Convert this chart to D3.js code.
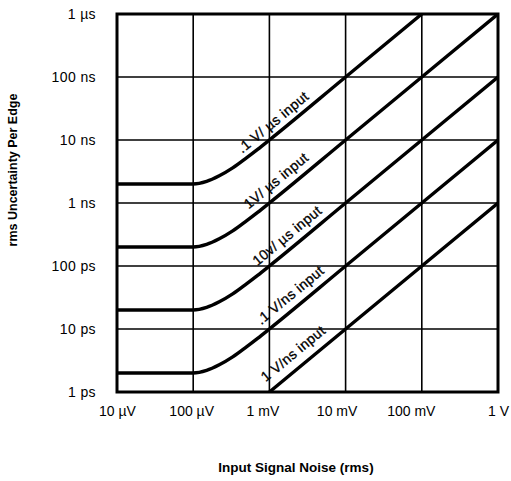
<!DOCTYPE html>
<html>
<head>
<meta charset="utf-8">
<script src="https://cdn.jsdelivr.net/npm/d3@7"></script>
<style>
  body { margin: 0; background: #fff; }
  svg { display: block; }
  text { fill: #000; }
</style>
</head>
<body>
<svg id="chart" width="511" height="481"></svg>
<script>
// ---- data (noise in volts, uncertainty in seconds) ----
const xTickValues = [1e-5, 1e-4, 1e-3, 1e-2, 1e-1, 1];
const xTickLabels = ["10 \u00b5V", "100 \u00b5V", "1 mV", "10 mV", "100 mV", "1 V"];
const yTickValues = [1e-12, 1e-11, 1e-10, 1e-9, 1e-8, 1e-7, 1e-6];
const yTickLabels = ["1 ps", "10 ps", "100 ps", "1 ns", "10 ns", "100 ns", "1 \u00b5s"];

const seriesNames = [".1 V/ \u00b5s input", "1V/ \u00b5s input", "10v/ \u00b5s input", ".1 V/ns input", "1 V/ns input"];

const series1 = [[1e-5, 2e-9], [1e-4, 2e-9], [1.5e-4, 2.2e-9], [2.2e-4, 2.7e-9], [3.3e-4, 3.6e-9], [5e-4, 5.2e-9], [7e-4, 7.1e-9], [1e-3, 1e-8], [1e-2, 1e-7], [1e-1, 1e-6]];
const series2 = [[1e-5, 2e-10], [1e-4, 2e-10], [1.5e-4, 2.2e-10], [2.2e-4, 2.7e-10], [3.3e-4, 3.6e-10], [5e-4, 5.2e-10], [7e-4, 7.1e-10], [1e-3, 1e-9], [1e-2, 1e-8], [1, 1e-6]];
const series3 = [[1e-5, 2e-11], [1e-4, 2e-11], [1.5e-4, 2.2e-11], [2.2e-4, 2.7e-11], [3.3e-4, 3.6e-11], [5e-4, 5.2e-11], [7e-4, 7.1e-11], [1e-3, 1e-10], [1e-2, 1e-9], [1, 1e-7]];
const series4 = [[1e-5, 2e-12], [1e-4, 2e-12], [1.5e-4, 2.2e-12], [2.2e-4, 2.7e-12], [3.3e-4, 3.6e-12], [5e-4, 5.2e-12], [7e-4, 7.1e-12], [1e-3, 1e-11], [1e-2, 1e-10], [1, 1e-8]];
const series5 = [[1e-3, 1e-12], [1e-2, 1e-11], [1, 1e-9]];
const allSeries = [series1, series2, series3, series4, series5];

const xTitle = "Input Signal Noise (rms)";
const yTitle = "rms Uncertainty Per Edge";

// ---- layout ----
const svg = d3.select("#chart");
const plotLeft = 117, plotTop = 14, plotW = 381, plotH = 378;
const tickFont = "\"Liberation Sans\", Arial, sans-serif";
const titleFont = "\"Liberation Sans\", Arial, sans-serif";

const x = d3.scaleLog().domain([1e-5, 1]).range([plotLeft, plotLeft + plotW]);
const y = d3.scaleLog().domain([1e-12, 1e-6]).range([plotTop + plotH, plotTop]);

// grid
const grid = svg.append("g");
grid.selectAll("line.v").data(xTickValues).join("line").attr("class", "v")
  .attr("x1", d => x(d)).attr("x2", d => x(d))
  .attr("y1", plotTop).attr("y2", plotTop + plotH)
  .attr("stroke", "#000").attr("stroke-width", 1.6);
grid.selectAll("line.h").data(yTickValues).join("line").attr("class", "h")
  .attr("y1", d => y(d)).attr("y2", d => y(d))
  .attr("x1", plotLeft).attr("x2", plotLeft + plotW)
  .attr("stroke", "#000").attr("stroke-width", 1.6);

// curves
svg.append("clipPath").attr("id", "clip").append("rect")
  .attr("x", plotLeft).attr("y", plotTop).attr("width", plotW).attr("height", plotH);
const line = d3.line().x(d => x(d[0])).y(d => y(d[1])).curve(d3.curveMonotoneX);
svg.append("g").attr("clip-path", "url(#clip)")
  .selectAll("path").data(allSeries).join("path")
  .attr("d", line)
  .attr("fill", "none").attr("stroke", "#000").attr("stroke-width", 3.4);

// border
svg.append("rect").attr("x", plotLeft).attr("y", plotTop).attr("width", plotW).attr("height", plotH)
  .attr("fill", "none").attr("stroke", "#000").attr("stroke-width", 3);

// axes (labels only)
const xLabelShift = [0, -2, -7, -9, -11, 0];
const xAxis = d3.axisBottom(x).tickValues(xTickValues)
  .tickFormat((d, i) => xTickLabels[i]).tickSize(0).tickPadding(0);
const gx = svg.append("g").attr("transform", `translate(0,${plotTop + plotH + 20})`).call(xAxis);
gx.select(".domain").remove();
gx.selectAll("text").attr("font-size", 14).attr("dy", "0.32em")
  .attr("dx", (d, i) => xLabelShift[i])
  .attr("font-family", tickFont);

const yAxis = d3.axisLeft(y).tickValues(yTickValues)
  .tickFormat((d, i) => yTickLabels[i]).tickSize(0).tickPadding(0);
const gy = svg.append("g").attr("transform", `translate(${plotLeft - 21},0)`).call(yAxis);
gy.select(".domain").remove();
gy.selectAll("text").attr("font-size", 14).attr("letter-spacing", 0.4)
  .attr("font-family", tickFont);

// series labels along the lines
const angle = Math.atan2(y(1e-9) - y(1e-8), x(1e-2) - x(1e-3)) * 180 / Math.PI;
const slope = Math.tan(angle * Math.PI / 180);
const labelCx = [273, 276, 287, 290, 293];  // label centre x in px
const labelLift = [15, 17, 16, 17, 19];     // px vertically above the line
const crossY = [1e-8, 1e-9, 1e-10, 1e-11, 1e-12];
svg.append("g").selectAll("text").data(seriesNames).join("text")
  .attr("transform", (d, i) => {
    const cx = labelCx[i];
    const cy = y(crossY[i]) - (cx - x(1e-3)) * slope - labelLift[i];
    return `translate(${cx},${cy}) rotate(${-angle})`;
  })
  .attr("text-anchor", "middle").attr("dy", "0.35em")
  .attr("font-size", 14).attr("letter-spacing", 0.4)
  .attr("font-family", tickFont)
  .attr("stroke", "#000").attr("stroke-width", 0.3)
  .text(d => d);

// titles
svg.append("text").attr("transform", `translate(17,170) rotate(-90)`)
  .attr("text-anchor", "middle").attr("font-size", 12.5).attr("font-weight", "bold")
  .attr("font-family", titleFont)
  .text(yTitle);
svg.append("text").attr("x", 296).attr("y", 472)
  .attr("text-anchor", "middle").attr("font-size", 13.5).attr("font-weight", "bold")
  .attr("font-family", titleFont)
  .text(xTitle);
</script>
</body>
</html>
